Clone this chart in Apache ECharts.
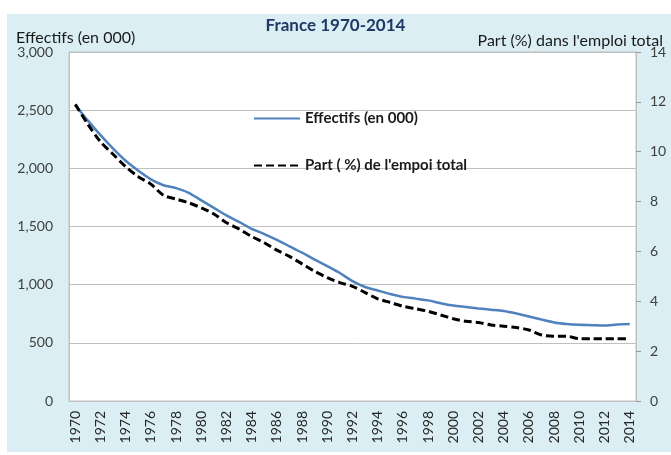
<!DOCTYPE html>
<html lang="fr">
<head>
    <meta charset="UTF-8">
    <title>France 1970-2014</title>
    <script src="https://cdn.jsdelivr.net/npm/echarts@6/dist/echarts.min.js"></script>
    <style>
        html,
        body {
            margin: 0;
            padding: 0;
            background: #fff;
        }

        #chart {
            width: 671px;
            height: 455px;
        }
    </style>
</head>
<body>
    <div id="chart"></div>
    <script>
        var years = [];
        for (var y = 1970; y <= 2014; y++) years.push(String(y));

        // effectifs (en milliers)
        var effectifs = [
            2545, 2410, 2285, 2170, 2065, 1980, 1905, 1855, 1830, 1790,
            1725, 1660, 1595, 1540, 1480, 1435, 1385, 1330, 1275, 1215,
            1160, 1100, 1030, 980, 950, 920, 895, 880, 865, 840,
            820, 808, 796, 785, 773, 752, 727, 700, 675, 662,
            655, 652, 649, 657, 661
        ];

        // part (%) dans l'emploi total
        var part = [
            11.9, 11.1, 10.4, 9.9, 9.4, 9.0, 8.7, 8.25, 8.1, 7.95,
            7.75, 7.5, 7.15, 6.9, 6.6, 6.35, 6.05, 5.8, 5.5, 5.2,
            4.95, 4.75, 4.6, 4.35, 4.1, 3.95, 3.8, 3.7, 3.6, 3.45,
            3.3, 3.2, 3.15, 3.05, 3.0, 2.95, 2.85, 2.65, 2.6, 2.6,
            2.5, 2.5, 2.5, 2.5, 2.5
        ];

        var font = 'Lato, "Open Sans", sans-serif';
        var gridColor = '#c0c0c0';

        var chart = echarts.init(document.getElementById('chart'));

        chart.setOption({
            animation: false,
            textStyle: { fontFamily: font },
            graphic: [{
                type: 'rect',
                z: -10,
                shape: { x: 7, y: 14, width: 664, height: 438 },
                style: { fill: '#daeef3' }
            }],
            title: [{
                text: 'France 1970-2014',
                left: 'center',
                top: 12,
                textStyle: { fontSize: 17, fontWeight: 'bold', color: '#1f3864', fontFamily: font }
            }, {
                text: 'Effectifs (en 000)',
                left: 11,
                top: 25,
                textStyle: { fontSize: 16, fontWeight: 'normal', color: '#1a1a1a', fontFamily: font }
            }, {
                text: "Part (%) dans l'emploi total",
                right: 3,
                top: 28,
                textStyle: { fontSize: 16, fontWeight: 'normal', color: '#1a1a1a', fontFamily: font }
            }],
            legend: {
                orient: 'vertical',
                left: 248,
                top: 106,
                itemWidth: 46,
                itemHeight: 16,
                itemGap: 32,
                itemStyle: { opacity: 0 },
                textStyle: { fontSize: 15, fontWeight: 'bold', color: '#1a1a1a', fontFamily: font },
                data: ['Effectifs (en 000)', "Part ( %) de l'empoi total"]
            },
            grid: {
                left: 69,
                right: 35,
                top: 52,
                bottom: 54,
                show: true,
                backgroundColor: '#fff',
                borderColor: gridColor,
                borderWidth: 1
            },
            xAxis: {
                type: 'category',
                data: years,
                boundaryGap: true,
                axisLine: { lineStyle: { color: gridColor } },
                axisTick: { show: false },
                axisLabel: {
                    rotate: 90,
                    interval: 1,
                    margin: 10,
                    fontSize: 14,
                    color: '#262626'
                }
            },
            yAxis: [{
                type: 'value',
                min: 0,
                max: 3000,
                interval: 500,
                axisLine: { show: true, lineStyle: { color: gridColor } },
                axisTick: { show: false },
                splitLine: { lineStyle: { color: gridColor } },
                axisLabel: {
                    margin: 16,
                    fontSize: 14,
                    color: '#404040',
                    formatter: function (v) { return v.toLocaleString('en-US'); }
                }
            }, {
                type: 'value',
                position: 'right',
                min: 0,
                max: 14,
                interval: 2,
                axisLine: { show: true, lineStyle: { color: gridColor } },
                axisTick: { show: true, length: 5, lineStyle: { color: '#999' } },
                splitLine: { show: false },
                axisLabel: { margin: 14, fontSize: 14, color: '#404040' }
            }],
            series: [{
                name: 'Effectifs (en 000)',
                type: 'line',
                yAxisIndex: 0,
                data: effectifs,
                symbol: 'none',
                smooth: 0.3,
                lineStyle: { color: '#4f81bd', width: 2.5 },
                itemStyle: { color: '#4f81bd' },
                z: 3
            }, {
                name: "Part ( %) de l'empoi total",
                type: 'line',
                yAxisIndex: 1,
                data: part,
                symbol: 'none',
                smooth: 0.3,
                lineStyle: { color: '#000', width: 3, type: [8, 4] },
                itemStyle: { color: '#000' },
                z: 4
            }]
        });
    </script>
</body>
</html>
